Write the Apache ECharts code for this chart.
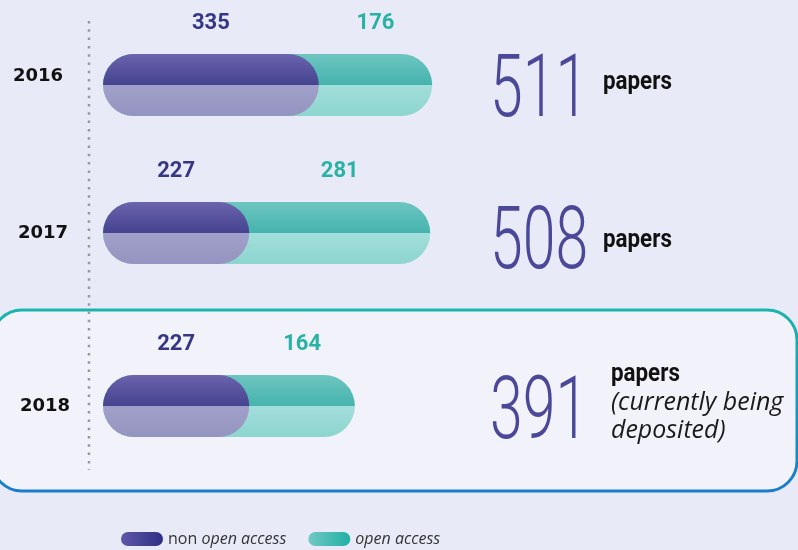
<!DOCTYPE html>
<html>
<head>
<meta charset="utf-8">
<script src="https://cdn.jsdelivr.net/npm/echarts@6/dist/echarts.min.js"></script>
<style>
  html, body { margin: 0; padding: 0; background: #e8ebf7; }
  #chart { width: 798px; height: 550px; }
</style>
</head>
<body>
<div id="chart"></div>
<script>
// Papers per year, split by access type
const years = ['2016', '2017', '2018'];
const nonOpen = [335, 227, 227];
const openAcc = [176, 281, 164];
const totals = years.map((_, i) => nonOpen[i] + openAcc[i]);

// Layout of each year's row
const rowTop = [54, 202, 375];
const totalCenter = [94, 246, 416];
const yearMargin = [40, 35, 33];
const yearAlign = ['bottom', 'middle', 'middle'];
const BAR_H = 62;
const X_MAX = 520;

const labelFont = "Roboto, sans-serif";

function splitGradient(top, mid, lightMid, bottom) {
  return new echarts.graphic.LinearGradient(0, 0, 0, 1, [
    { offset: 0, color: top },
    { offset: 0.5, color: mid },
    { offset: 0.5, color: lightMid },
    { offset: 1, color: bottom }
  ]);
}
const purpleFill = splitGradient('#6b63ad', '#45438f', '#a0a0ca', '#9494c0');
const tealFill = splitGradient('#6ec5c0', '#45b3ad', '#a3dedb', '#8dd5cf');

const grids = [], xAxes = [], yAxes = [], series = [];
years.forEach((year, i) => {
  grids.push({ left: 103, width: 335, top: rowTop[i], height: BAR_H });
  xAxes.push({ type: 'value', gridIndex: i, min: 0, max: X_MAX, show: false });
  yAxes.push({
    type: 'category', gridIndex: i, data: [year],
    axisLine: { show: false }, axisTick: { show: false },
    axisLabel: {
      margin: yearMargin[i], fontSize: 18, fontWeight: 'bold', color: '#111',
      fontFamily: "'DejaVu Sans', sans-serif", verticalAlign: yearAlign[i]
    }
  });
  const common = {
    type: 'bar', xAxisIndex: i, yAxisIndex: i, barWidth: BAR_H, barGap: '-100%'
  };
  // full-length open access pill behind
  series.push(Object.assign({}, common, {
    name: 'open access', data: [totals[i]],
    itemStyle: { color: tealFill, borderRadius: BAR_H / 2 }
  }));
  // non open access pill on top
  series.push(Object.assign({}, common, {
    name: 'non open access', data: [nonOpen[i]],
    itemStyle: { color: purpleFill, borderRadius: BAR_H / 2 }
  }));
  // transparent stacked segments carrying the value labels
  const labelBase = {
    show: true, position: 'top', distance: 20, fontFamily: labelFont,
    fontWeight: 'bold', fontSize: 22
  };
  series.push(Object.assign({}, common, {
    name: 'lbl-non-' + year, stack: 'lbl' + i, silent: true, data: [nonOpen[i]],
    itemStyle: { color: 'rgba(0,0,0,0)' },
    label: Object.assign({ color: '#363687' }, labelBase)
  }));
  series.push(Object.assign({}, common, {
    name: 'lbl-oa-' + year, stack: 'lbl' + i, silent: true, data: [openAcc[i]],
    itemStyle: { color: 'rgba(0,0,0,0)' },
    label: Object.assign({ color: '#29b2a5' }, labelBase)
  }));
});

const graphics = [
  {
    type: 'rect', z: -10, silent: true,
    shape: { x: -8, y: 310, width: 805, height: 181, r: 30 },
    style: {
      fill: '#f2f3fa', lineWidth: 3,
      stroke: new echarts.graphic.LinearGradient(0, 0, 0, 1, [
        { offset: 0, color: '#1bb4ad' }, { offset: 1, color: '#1a7ccb' }
      ])
    }
  },
  {
    type: 'line', z: 5, silent: true,
    shape: { x1: 89, y1: 21, x2: 89, y2: 470 },
    style: { stroke: '#9a9a9a', lineWidth: 2.5, lineDash: [2.5, 5.8] }
  }
];
// Totals column on the right
years.forEach((year, i) => {
  graphics.push({
    type: 'text', x: 490, y: totalCenter[i], scaleX: 0.67, silent: true,
    style: {
      text: String(totals[i]), fill: '#4b489a', fontSize: 88, fontWeight: 350,
      fontFamily: "Roboto, sans-serif", align: 'left', verticalAlign: 'middle'
    }
  });
});
const papersStyle = {
  text: 'papers', fill: '#111', fontSize: 26, fontWeight: 'bold',
  fontFamily: "Roboto, sans-serif", verticalAlign: 'middle'
};
const noteStyle = {
  fill: '#1a1a1a', fontSize: 26, fontStyle: 'italic', fontWeight: 400,
  fontFamily: "'Open Sans', sans-serif", verticalAlign: 'middle'
};
graphics.push(
  { type: 'text', x: 603, y: 82, scaleX: 0.86, silent: true, style: Object.assign({}, papersStyle) },
  { type: 'text', x: 603, y: 240, scaleX: 0.86, silent: true, style: Object.assign({}, papersStyle) },
  { type: 'text', x: 611, y: 374, scaleX: 0.86, silent: true, style: Object.assign({}, papersStyle) },
  { type: 'text', x: 611, y: 403, scaleX: 0.96, silent: true, style: Object.assign({ text: '(currently being' }, noteStyle) },
  { type: 'text', x: 611, y: 431, scaleX: 0.96, silent: true, style: Object.assign({ text: 'deposited)' }, noteStyle) }
);

const pill = 'path://M7,0 H35 A7,7 0 0 1 35,14 H7 A7,7 0 0 1 7,0 Z';
const chart = echarts.init(document.getElementById('chart'), null, { renderer: 'canvas' });
chart.setOption({
  backgroundColor: '#e8ebf7',
  animation: false,
  grid: grids,
  xAxis: xAxes,
  yAxis: yAxes,
  series: series,
  graphic: graphics,
  legend: {
    left: 116, top: 526, itemWidth: 42, itemHeight: 14, itemGap: 22,
    selectedMode: false,
    data: [
      { name: 'non open access', icon: pill,
        itemStyle: { color: new echarts.graphic.LinearGradient(0, 0, 1, 0, [
          { offset: 0, color: '#5f58a8' }, { offset: 1, color: '#2e2f86' }]) } },
      { name: 'open access', icon: pill,
        itemStyle: { color: new echarts.graphic.LinearGradient(0, 0, 1, 0, [
          { offset: 0, color: '#72c8c2' }, { offset: 1, color: '#1fb0a5' }]) } }
    ],
    formatter: name => name === 'non open access' ? '{n|non} {i|open access}' : '{i|open access}',
    textStyle: {
      color: '#333', fontSize: 16, fontFamily: "'Open Sans', sans-serif",
      rich: {
        n: { fontSize: 16, color: '#333', fontFamily: "'Open Sans', sans-serif" },
        i: { fontSize: 16, color: '#333', fontStyle: 'italic', fontFamily: "'Open Sans', sans-serif" }
      }
    }
  }
});
</script>
</body>
</html>
